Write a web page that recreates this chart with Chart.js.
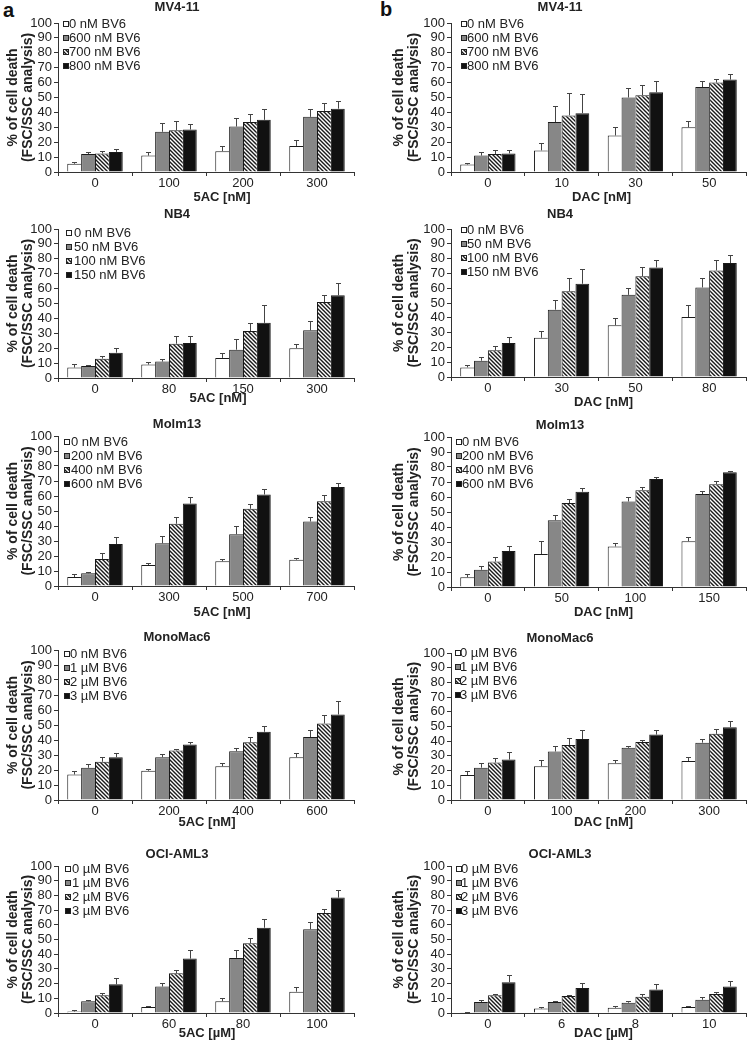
<!DOCTYPE html>
<html>
<head>
<meta charset="utf-8">
<script src="https://cdn.jsdelivr.net/npm/chart.js@4.4.1/dist/chart.umd.min.js"></script>
<style>
  html, body { margin: 0; padding: 0; background: #fff; overflow: hidden; }
  #fig { position: relative; width: 748px; height: 1048px; overflow: hidden; }
  #fig canvas { position: absolute; }
  .tag { position: absolute; font: bold 20px "Liberation Sans", Arial, sans-serif; color: #111; }
</style>
</head>
<body>
<div id="fig">
  <div class="tag" style="left:3px;top:-1px">a</div>
  <div class="tag" style="left:380px;top:-2px">b</div>
</div>
<script>
// legend texts (BV6 doses)
const bv6Mv411 = ['0 nM BV6', '600 nM BV6', '700 nM BV6', '800 nM BV6'];
const bv6Nb4 = ['0 nM BV6', '50 nM BV6', '100 nM BV6', '150 nM BV6'];
const bv6Molm13 = ['0 nM BV6', '200 nM BV6', '400 nM BV6', '600 nM BV6'];
const bv6MonoA = ['0 nM BV6', '1 µM BV6', '2 µM BV6', '3 µM BV6'];
const bv6MonoB = ['0 µM BV6', '1 µM BV6', '2 µM BV6', '3 µM BV6'];
const bv6Oci = ['0 µM BV6', '1 µM BV6', '2 µM BV6', '3 µM BV6'];

// x tick labels
const azaMv411 = ['0', '100', '200', '300'];
const decMv411 = ['0', '10', '30', '50'];
const azaNb4 = ['0', '80', '150', '300'];
const decNb4 = ['0', '30', '50', '80'];
const azaMolm13 = ['0', '300', '500', '700'];
const decMolm13 = ['0', '50', '100', '150'];
const azaMono = ['0', '200', '400', '600'];
const decMono = ['0', '100', '200', '300'];
const azaOci = ['0', '60', '80', '100'];
const decOci = ['0', '6', '8', '10'];

// % cell death, one row per BV6 dose (0, low, mid, high)
const a1Mean = [[5.5, 11, 14, 17.5], [12, 27, 30.5, 37], [12.5, 28, 33.5, 41], [13.5, 28.5, 35, 42.5]];
const a1Err = [[1, 2.5, 3.5, 4], [1.5, 6, 6, 5], [1.5, 6, 5.5, 5], [2, 4, 7, 5]];
const b1Mean = [[5, 14.5, 24.5, 30], [11, 33.5, 50, 57], [12, 38, 51.5, 60], [12.5, 39.5, 53.5, 62]];
const b1Err = [[1, 5, 6, 4.5], [2.5, 11, 6.5, 4], [2.5, 15, 7, 2.5], [2, 13, 7.5, 3.5]];
const a2Mean = [[7, 9, 13.5, 20], [8, 11, 19, 32], [13, 23, 31.5, 51], [17, 23.5, 37, 55.5]];
const a2Err = [[2.5, 1.5, 3, 2.5], [1, 1.5, 7, 6], [1.5, 5.5, 5.5, 4.5], [3, 5, 12, 8]];
const b2Mean = [[6.5, 26.5, 35, 40.5], [11, 45.5, 55.5, 60.5], [18, 58, 68, 72], [23, 63, 74, 77]];
const b2Err = [[1.5, 4.5, 5, 8], [2.5, 6.5, 4.5, 6.5], [3, 9, 6.5, 7], [4, 10, 5, 5.5]];
const a3Mean = [[6, 14, 16.5, 17.5], [8.5, 28.5, 34.5, 43], [18, 41.5, 51.5, 56.5], [28, 55, 61, 66]];
const a3Err = [[2, 1.5, 1.5, 1.5], [1, 5, 5.5, 3], [4, 4.5, 3.5, 4], [4.5, 4.5, 3.5, 2.5]];
const b3Mean = [[6.5, 22, 27, 30.5], [11.5, 44.5, 57, 62], [17, 56, 64.5, 68.5], [24, 63.5, 72, 76.5]];
const b3Err = [[2.5, 8.5, 2.5, 2.5], [2.5, 3.5, 3, 2], [3, 3, 2, 2], [3.5, 2.5, 1.5, 1]];
const a4Mean = [[17, 19.5, 22.5, 28.5], [21.5, 28.5, 32.5, 42], [25.5, 33, 38.5, 51], [28.5, 37, 45.5, 57]];
const a4Err = [[2.5, 1.5, 2, 2.5], [2.5, 2, 2.5, 4.5], [3, 1, 3.5, 6], [3, 1.5, 4, 9]];
const b4Mean = [[17, 23, 25, 26.5], [22, 33, 35.5, 39], [25.5, 37.5, 39.5, 45], [27.5, 41.5, 44.5, 49.5]];
const b4Err = [[3, 4, 2.5, 3], [3.5, 4, 1.5, 2.5], [3, 5, 1.5, 3.5], [5, 6, 3, 4.5]];
const a5Mean = [[1, 4, 8, 14.5], [8, 18, 37.5, 57], [12, 27, 47.5, 68], [19.5, 37, 58, 78.5]];
const a5Err = [[1, 0.7, 2.5, 3.5], [0.7, 2.5, 5.5, 5], [1.5, 2.5, 3.5, 3], [4.5, 6, 6, 5]];
const b5Mean = [[0.5, 3, 3.5, 4], [7.5, 7.5, 7, 9], [12, 11.5, 11, 13], [21, 17, 16, 18]];
const b5Err = [[0.5, 1, 1, 1], [1.2, 1, 1, 2], [1, 1, 2, 1.5], [5, 3.5, 4, 3.5]];

const FONT = '"Liberation Sans", Arial, sans-serif';
Chart.defaults.font.family = FONT;
Chart.defaults.color = '#222';

function makeHatch() {
  const c = document.createElement('canvas');
  c.width = 4; c.height = 4;
  const g = c.getContext('2d');
  g.fillStyle = '#fff';
  g.fillRect(0, 0, 4, 4);
  g.strokeStyle = '#1a1a1a';
  g.lineWidth = 1.4;
  g.beginPath();
  g.moveTo(-1, -1); g.lineTo(5, 5);
  g.moveTo(3, -1); g.lineTo(5, 1);
  g.moveTo(-1, 3); g.lineTo(1, 5);
  g.stroke();
  return g.createPattern(c, 'repeat');
}
const fills = ['#ffffff', '#878787', makeHatch(), '#111111'];

// error bars: upper whisker only
const errorBars = {
  id: 'errorBars',
  afterDatasetsDraw(chart) {
    const { ctx } = chart;
    const y = chart.scales.y;
    ctx.save();
    ctx.strokeStyle = '#444';
    ctx.lineWidth = 1;
    chart.data.datasets.forEach((ds, i) => {
      chart.getDatasetMeta(i).data.forEach((bar, j) => {
        const top = Math.round(y.getPixelForValue(ds.data[j] + ds.errors[j])) + 0.5;
        const x = Math.round(bar.x) + 0.5;
        ctx.beginPath();
        ctx.moveTo(x, bar.y);
        ctx.lineTo(x, top);
        ctx.moveTo(x - 2.5, top);
        ctx.lineTo(x + 2.5, top);
        ctx.stroke();
      });
    });
    ctx.restore();
  }
};

// small boxed legend inside the plot (top left) and the x axis caption
const boxLegend = {
  id: 'boxLegend',
  afterDraw(chart, args, opts) {
    const { ctx, chartArea } = chart;
    ctx.save();
    ctx.font = '13px ' + FONT;
    ctx.textBaseline = 'middle';
    chart.data.datasets.forEach((ds, i) => {
      const cy = Math.round(chartArea.top + opts.dy + i * 14);
      const bx = Math.round(chartArea.left + opts.boxDx);
      ctx.fillStyle = ds.backgroundColor;
      ctx.fillRect(bx, cy - 3, 6, 6);
      ctx.strokeStyle = '#222';
      ctx.lineWidth = 1;
      ctx.strokeRect(bx + 0.5, cy - 2.5, 5, 5);
      ctx.fillStyle = '#222';
      ctx.fillText(ds.label, chartArea.left + opts.textDx, cy + 0.5);
    });
    ctx.font = 'bold 13px ' + FONT;
    ctx.textAlign = 'center';
    ctx.fillText(opts.caption, (chartArea.left + chartArea.right) / 2 + opts.captionDx, chartArea.bottom + opts.captionGap);
    ctx.restore();
  }
};

const cols = [
  { left: 0, width: 440, plotLeft: 58, plotRight: 354, yPad: 5.6 },
  { left: 374, width: 454, plotLeft: 451, plotRight: 746, yPad: 17.6 }
];

const panels = [
  { col: 0, title: 'MV4-11', x: azaMv411, leg: bv6Mv411, mean: a1Mean, err: a1Err, xTitle: '5AC [nM]', titleY: 8, top: 23, bottom: 172, xGap: 25, xDx: 16, lg: [5, 11, 1] },
  { col: 1, title: 'MV4-11', x: decMv411, leg: bv6Mv411, mean: b1Mean, err: b1Err, xTitle: 'DAC [nM]', titleY: 8, top: 23, bottom: 172, xGap: 25, xDx: 3, lg: [10, 16, 1] },
  { col: 0, title: 'NB4', x: azaNb4, leg: bv6Nb4, mean: a2Mean, err: a2Err, xTitle: '5AC [nM]', titleY: 215, top: 229, bottom: 378, xGap: 20, xDx: 12, lg: [8, 16, 4] },
  { col: 1, title: 'NB4', x: decNb4, leg: bv6Nb4, mean: b2Mean, err: b2Err, xTitle: 'DAC [nM]', titleY: 215, top: 229, bottom: 377, xGap: 25, xDx: 5, lg: [10, 16, 1] },
  { col: 0, title: 'Molm13', x: azaMolm13, leg: bv6Molm13, mean: a3Mean, err: a3Err, xTitle: '5AC [nM]', titleY: 425, top: 436, bottom: 586, xGap: 26, xDx: 16, lg: [6, 13, 6] },
  { col: 1, title: 'Molm13', x: decMolm13, leg: bv6Molm13, mean: b3Mean, err: b3Err, xTitle: 'DAC [nM]', titleY: 426, top: 437, bottom: 587, xGap: 25, xDx: 5, lg: [5, 11, 5] },
  { col: 0, title: 'MonoMac6', x: azaMono, leg: bv6MonoA, mean: a4Mean, err: a4Err, xTitle: '5AC [nM]', titleY: 638, top: 650, bottom: 800, xGap: 22, xDx: 1, lg: [6, 12, 4] },
  { col: 1, title: 'MonoMac6', x: decMono, leg: bv6MonoB, mean: b4Mean, err: b4Err, xTitle: 'DAC [nM]', titleY: 639, top: 653, bottom: 800, xGap: 22, xDx: 5, lg: [4, 9, 0] },
  { col: 0, title: 'OCI-AML3', x: azaOci, leg: bv6Oci, mean: a5Mean, err: a5Err, xTitle: '5AC [µM]', titleY: 855, top: 866, bottom: 1013, xGap: 20, xDx: 1, lg: [7, 14, 3] },
  { col: 1, title: 'OCI-AML3', x: decOci, leg: bv6Oci, mean: b5Mean, err: b5Err, xTitle: 'DAC [µM]', titleY: 855, top: 866, bottom: 1013, xGap: 20, xDx: 5, lg: [5, 10, 3] }
];

const fig = document.getElementById('fig');

panels.forEach(p => {
  const c = cols[p.col];
  const titleLH = 15.6;
  const canvasTop = Math.round(p.titleY - titleLH / 2);
  const xh = Math.round(p.xGap + 10);
  const h = (p.top - canvasTop) + (p.bottom - p.top) + xh;

  const canvas = document.createElement('canvas');
  canvas.width = c.width;
  canvas.height = h;
  canvas.style.left = c.left + 'px';
  canvas.style.top = canvasTop + 'px';
  fig.appendChild(canvas);

  new Chart(canvas, {
    type: 'bar',
    plugins: [errorBars, boxLegend],
    data: {
      labels: p.x,
      datasets: p.mean.map((vals, i) => ({
        label: p.leg[i],
        data: vals,
        errors: p.err[i],
        backgroundColor: fills[i],
        borderColor: '#1a1a1a',
        borderWidth: { top: 1, left: 1, right: i === 3 ? 1 : 0, bottom: 0 },
        borderSkipped: false,
        categoryPercentage: 0.75,
        barPercentage: 1.0
      }))
    },
    options: {
      responsive: false,
      animation: false,
      layout: { padding: { left: 0, right: c.width - (c.plotRight - c.left), top: 0, bottom: 0 } },
      plugins: {
        legend: { display: false },
        tooltip: { enabled: false },
        title: {
          display: true,
          text: p.title,
          color: '#222',
          font: { size: 13, weight: 'bold', lineHeight: 1.2 },
          padding: { top: 0, bottom: p.top - canvasTop - titleLH }
        },
        boxLegend: { boxDx: p.lg[0], textDx: p.lg[1], dy: p.lg[2], caption: p.xTitle, captionDx: p.xDx, captionGap: p.xGap }
      },
      scales: {
        x: {
          grid: { display: true, drawOnChartArea: false, offset: true, tickLength: 4, color: '#333' },
          border: { color: '#333' },
          ticks: { font: { size: 13 }, color: '#222', padding: 0 },
          afterFit(s) { s.height = xh; }
        },
        y: {
          min: 0,
          max: 100,
          ticks: { stepSize: 10, autoSkip: false, font: { size: 13 }, color: '#222', padding: 2 },
          grid: { drawOnChartArea: false, tickLength: 4, color: '#333' },
          border: { color: '#333' },
          title: {
            display: true,
            text: ['% of cell death', '(FSC/SSC analysis)'],
            color: '#222',
            font: { size: 14, weight: 'bold', lineHeight: 1.05 },
            padding: { top: c.yPad, bottom: 0 }
          },
          afterFit(s) { s.width = c.plotLeft - c.left; }
        }
      }
    }
  });
});
</script>
</body>
</html>
